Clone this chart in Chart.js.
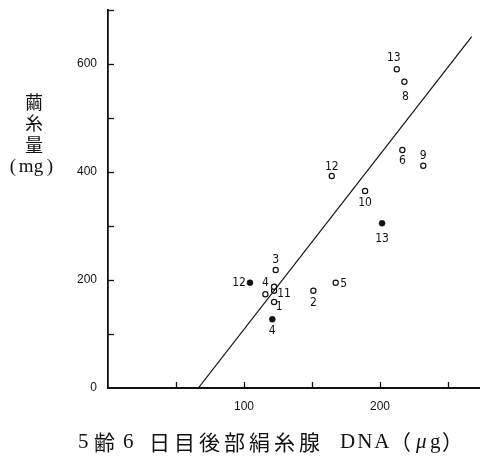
<!DOCTYPE html>
<html>
<head>
<meta charset="utf-8">
<script src="https://cdn.jsdelivr.net/npm/chart.js@4/dist/chart.umd.min.js"></script>
<style>
html,body{margin:0;padding:0;background:#fff;}
canvas{display:block;}
</style>
</head>
<body>
<canvas id="c" width="480" height="458"></canvas>
<script>
// ---- data ----
const openX   = [123.3, 115.7, 122.1, 122.1, 122.1, 151.0, 167.4, 164.5, 189.0, 216.4, 231.8, 212.3, 217.9];
const openY   = [218.5, 173.5, 180.2, 187.6, 159.3, 180.2, 195.0, 392.6, 364.8, 440.7, 411.7, 590.2, 567.2];
const openLbl = ['3',  '4',   '11',  '',    '1',   '2',   '5',   '12',  '10',  '6',   '9',   '13',  '8'];

const fillX   = [104.4, 120.8, 201.5];
const fillY   = [195.0, 127.2, 305.0];
const fillLbl = ['12',  '4',   '13'];

const lineX = [66.4, 267.4];
const lineY = [0, 650.6];

const xTickLabels = {100: '100', 200: '200'};
const yTickLabels = {0: '0', 200: '200', 400: '400', 600: '600'};

const yTitleLines = ['繭', '糸', '量'];
const yTitleUnit = ['(', 'mg', ')'];
const xTitleParts = ['5', '齢', '6', '日目後部絹糸腺', 'DNA', '（', 'μ', 'g', '）'];

// ---- label offsets / title layout (style) ----
const openOff = [[0,-10],[0,-11],[10,3],[0,0],[5,5],[0,12],[8,1],[0,-9],[0,12],[0,11],[0,-10],[-3,-11],[1,15]];
const fillOff = [[-11,0],[0,11.5],[0,16]];
const xTitleLeft = [78, 94, 123, 149, 340, 390, 416, 430, 442];

const toPts = (xs, ys) => xs.map((x, i) => ({x: x, y: ys[i]}));

const labelFont = "12px 'Liberation Sans Narrow', 'DejaVu Sans Condensed', 'Liberation Sans', sans-serif";
const serif = "'Liberation Serif', 'DejaVu Serif', 'Noto Sans CJK JP', serif";
const cjk = "'Noto Sans CJK JP', sans-serif";

const pointLabels = {
  id: 'pointLabels',
  afterDatasetsDraw(chart) {
    const ctx = chart.ctx;
    ctx.save();
    ctx.fillStyle = '#111';
    ctx.font = labelFont;
    ctx.textAlign = 'center';
    ctx.textBaseline = 'middle';
    chart.data.datasets.forEach((ds, di) => {
      if (!ds.labels) return;
      const meta = chart.getDatasetMeta(di);
      meta.data.forEach((el, i) => {
        const t = ds.labels[i];
        if (!t) return;
        const o = ds.offsets[i];
        ctx.fillText(t, el.x + o[0], el.y + o[1]);
      });
    });
    ctx.restore();
  }
};

const inwardTicks = {
  id: 'inwardTicks',
  afterDraw(chart) {
    const ctx = chart.ctx;
    const xs = chart.scales.x, ys = chart.scales.y;
    const a = chart.chartArea;
    ctx.save();
    ctx.strokeStyle = '#111';
    ctx.lineWidth = 1.3;
    ys.ticks.forEach(t => {
      if (t.value === 0 || t.value % 100 !== 0) return;
      const py = Math.round(ys.getPixelForValue(t.value)) + 0.5;
      ctx.beginPath(); ctx.moveTo(a.left, py); ctx.lineTo(a.left + 6, py); ctx.stroke();
    });
    xs.ticks.forEach(t => {
      if (t.value === 0 || t.value % 50 !== 0) return;
      const px = Math.round(xs.getPixelForValue(t.value)) + 0.5;
      ctx.beginPath(); ctx.moveTo(px, a.bottom); ctx.lineTo(px, a.bottom - 6); ctx.stroke();
    });
    ctx.restore();
  }
};

const titles = {
  id: 'titles',
  afterDraw(chart) {
    const ctx = chart.ctx;
    ctx.save();
    ctx.fillStyle = '#111';
    ctx.textAlign = 'center';
    ctx.textBaseline = 'middle';
    ctx.font = "18px " + cjk;
    const ys = [102, 123, 145];
    yTitleLines.forEach((t, i) => ctx.fillText(t, 34, ys[i]));
    ctx.font = "19px " + serif;
    const ux = [13, 31, 50];
    yTitleUnit.forEach((t, i) => ctx.fillText(t, ux[i], 167));
    // x title
    ctx.textAlign = 'left';
    xTitleParts.forEach((p, i) => {
      let f;
      if (p === 'μ') f = "italic 21px " + serif;
      else if (/[\u3000-\u9fff\uff00-\uffef]/.test(p)) f = "21px " + cjk;
      else f = "21px " + serif;
      ctx.font = f;
      ctx.letterSpacing = (p.length > 1 && /[\u4e00-\u9fff]/.test(p)) ? '4px' : (p === 'DNA' ? '2px' : '0px');
      ctx.fillText(p, xTitleLeft[i], 442);
    });
    ctx.restore();
  }
};

new Chart(document.getElementById('c'), {
  type: 'scatter',
  data: {
    datasets: [
      {
        type: 'line',
        data: toPts(lineX, lineY),
        borderColor: '#111',
        borderWidth: 1.2,
        pointRadius: 0,
        fill: false,
        tension: 0
      },
      {
        data: toPts(openX, openY),
        labels: openLbl,
        offsets: openOff,
        pointStyle: 'circle',
        pointRadius: 2.6,
        backgroundColor: '#fff',
        borderColor: '#111',
        borderWidth: 1.2
      },
      {
        data: toPts(fillX, fillY),
        labels: fillLbl,
        offsets: fillOff,
        pointStyle: 'circle',
        pointRadius: 3,
        backgroundColor: '#111',
        borderColor: '#111',
        borderWidth: 0.5
      }
    ]
  },
  options: {
    responsive: false,
    animation: false,
    devicePixelRatio: 1,
    layout: { autoPadding: false, padding: { left: 0, right: 0, top: 10, bottom: 0 } },
    plugins: { legend: { display: false }, tooltip: { enabled: false } },
    scales: {
      x: {
        type: 'linear',
        min: 0, max: 273.5,
        grid: { display: false, drawTicks: false },
        border: { display: true, color: '#111', width: 2 },
        ticks: {
          stepSize: 50,
          padding: 11,
          color: '#111',
          includeBounds: false,
          font: { family: "'Liberation Sans', sans-serif", size: 12 },
          maxRotation: 0,
          autoSkip: false,
          callback: v => xTickLabels[v] || ''
        },
        afterFit: s => { s.height = 70; s.paddingLeft = 0; s.paddingRight = 0; }
      },
      y: {
        type: 'linear',
        min: 0, max: 700,
        grid: { display: false, drawTicks: false },
        border: { display: true, color: '#111', width: 1.8 },
        ticks: {
          stepSize: 100,
          padding: 11,
          color: '#111',
          font: { family: "'Liberation Sans', sans-serif", size: 12 },
          autoSkip: false,
          callback: v => yTickLabels[v] || ''
        },
        afterFit: s => { s.width = 108; s.paddingTop = 0; s.paddingBottom = 0; }
      }
    }
  },
  plugins: [pointLabels, inwardTicks, titles]
});
</script>
</body>
</html>
